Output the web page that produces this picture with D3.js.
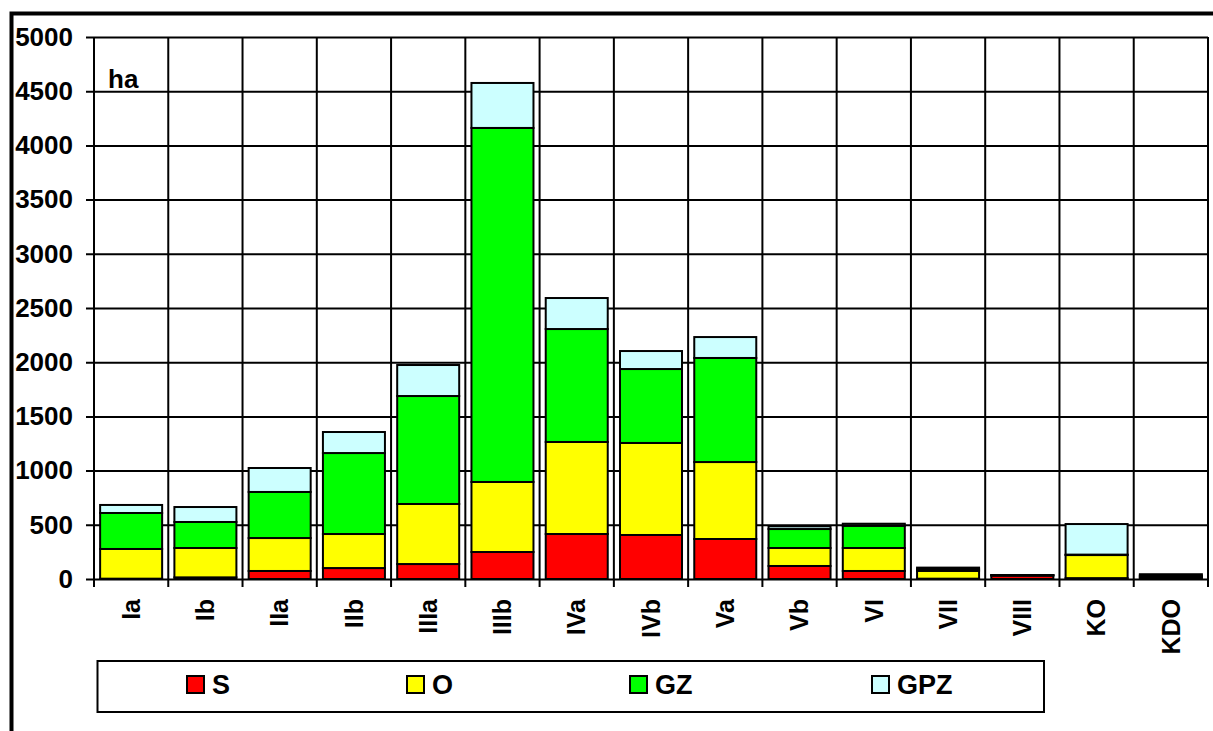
<!DOCTYPE html>
<html>
<head>
<meta charset="utf-8">
<style type="text/css">
  body{
    margin: 0;
    background: white;
  }
  svg text{
    font-family: 'Liberation Sans', Arial, sans-serif;
    font-weight: bold;
    fill: black;
  }
</style>
</head>
<body>

<script src="https://cdn.jsdelivr.net/npm/d3@7/dist/d3.min.js"></script>

<svg id="chart" width="1213" height="731"></svg>

<script>

// categories and series (ha)
var categories = ['Ia','Ib','IIa','IIb','IIIa','IIIb','IVa','IVb','Va','Vb','VI','VII','VIII','KO','KDO'];
var seriesNames = ['S','O','GZ','GPZ'];
var S   = [3,   15,  74,  101, 138, 249, 415, 406, 369, 120, 74,  3,  32, 8,   10];
var O   = [274, 271, 304, 314, 554, 646, 849, 849, 710, 166, 212, 72, 2,  213, 12];
var GZ  = [332, 240, 425, 747, 996, 3266,1042,682, 960, 175, 205, 15, 1,  4,   10];
var GPZ = [74,  138, 221, 194, 286, 415, 286, 166, 193, 25,  19,  15, 1,  282, 12];
var yTicks = [0,500,1000,1500,2000,2500,3000,3500,4000,4500,5000];
var colors = ['#ff0000','#ffff00','#00ff00','#ccffff'];

var rows = categories.map(function(c,i) {
  return {cat: c, S: S[i], O: O[i], GZ: GZ[i], GPZ: GPZ[i]};
});

var svg = d3.select('#chart');

var plotLeft = 94, plotRight = 1208, plotTop = 37, plotBottom = 579;

var y = d3.scaleLinear().domain([0,5000]).range([plotBottom, plotTop]);

var xGrid = d3.scaleBand().domain(categories).range([plotLeft, plotRight]);

var x = d3.scaleBand().domain(categories).range([plotLeft, plotRight])
  .paddingInner(0.165).paddingOuter(0.0825);

// outer frame (only top and left visible)
svg.append('path')
  .attr('d', 'M11.5,731 L11.5,13.5 L1213,13.5')
  .attr('fill', 'none')
  .attr('stroke', 'black')
  .attr('stroke-width', 4);

// horizontal grid + y labels
var yAxis = svg.append('g')
  .attr('transform', 'translate(' + plotLeft + ',0)')
  .call(d3.axisLeft(y).tickValues(yTicks).tickFormat(d3.format('d'))
    .tickSizeInner(-(plotRight-plotLeft)).tickSizeOuter(0));

yAxis.select('.domain').remove();
yAxis.selectAll('line')
  .attr('x1', -8)
  .attr('stroke', 'black')
  .attr('stroke-width', 2);
yAxis.selectAll('text')
  .attr('x', -21)
  .style('font-size', '26px')
  .style('font-family', "'Liberation Sans', Arial, sans-serif")
  .style('font-weight', 'bold');

// vertical grid lines at band edges, extended below as ticks
var edges = categories.map(function(c) { return xGrid(c); }).concat([plotRight]);
svg.append('g').selectAll('line')
  .data(edges)
  .enter().append('line')
  .attr('x1', function(d) { return d; })
  .attr('x2', function(d) { return d; })
  .attr('y1', plotTop)
  .attr('y2', plotBottom + 8)
  .attr('stroke', 'black')
  .attr('stroke-width', 2);

// stacked bars
var stack = d3.stack().keys(seriesNames);
var layers = stack(rows);

svg.append('g').selectAll('g')
  .data(layers)
  .enter().append('g')
  .attr('fill', function(d,i) { return colors[i]; })
  .selectAll('rect')
  .data(function(d) { return d; })
  .enter().append('rect')
  .attr('x', function(d) { return x(d.data.cat); })
  .attr('width', x.bandwidth())
  .attr('y', function(d) { return y(d[1]); })
  .attr('height', function(d) { return y(d[0]) - y(d[1]); })
  .attr('stroke', 'black')
  .attr('stroke-width', 2);

// x labels
var xAxis = svg.append('g')
  .attr('transform', 'translate(0,' + plotBottom + ')')
  .call(d3.axisBottom(xGrid).tickSize(0).tickPadding(0));

xAxis.select('.domain').remove();
xAxis.selectAll('text')
  .attr('transform', 'translate(0,20) rotate(-90)')
  .attr('x', 0)
  .attr('y', 0)
  .attr('dy', '0.35em')
  .attr('text-anchor', 'end')
  .style('font-size', '25px')
  .style('font-family', "'Liberation Sans', Arial, sans-serif")
  .style('font-weight', 'bold');

// unit label
svg.append('text')
  .attr('x', 108)
  .attr('y', 88)
  .style('font-size', '26px')
  .text('ha');

// legend
var legend = svg.append('g');
legend.append('rect')
  .attr('x', 97.5)
  .attr('y', 661)
  .attr('width', 946.5)
  .attr('height', 51)
  .attr('fill', 'white')
  .attr('stroke', 'black')
  .attr('stroke-width', 2);

var legendX = [187, 407, 630, 872];

var item = legend.selectAll('.item')
  .data(seriesNames)
  .enter().append('g')
  .attr('class', 'item')
  .attr('transform', function(d,i) { return 'translate(' + legendX[i] + ',676)'; });

item.append('rect')
  .attr('width', 17)
  .attr('height', 17)
  .attr('fill', function(d,i) { return colors[i]; })
  .attr('stroke', 'black')
  .attr('stroke-width', 2);

item.append('text')
  .attr('x', 25)
  .attr('y', 18)
  .style('font-size', '27px')
  .text(function(d) { return d; });

</script>

</body>
</html>
